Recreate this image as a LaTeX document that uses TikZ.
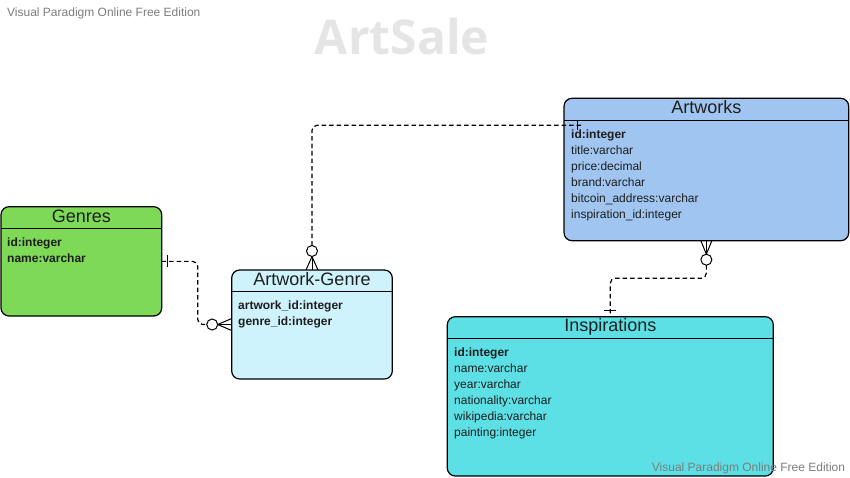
\documentclass[tikz,border=0pt]{standalone}
\usepackage{fontspec}
\setmainfont{Liberation Sans}
\newfontfamily\titlefont{Open Sans}
\definecolor{gcol}{RGB}{126,217,87}
\definecolor{agcol}{RGB}{207,243,252}
\definecolor{awcol}{RGB}{160,197,240}
\definecolor{incol}{RGB}{92,224,230}
\definecolor{txt}{RGB}{30,30,30}
\definecolor{wm}{RGB}{125,125,125}
\definecolor{ttl}{RGB}{229,229,229}
\begin{document}
\begin{tikzpicture}[x=1pt,y=-1pt,
  entity/.style={draw=black, line width=1.2pt, rounded corners=8pt, anchor=north west, inner sep=0pt, outer sep=0pt},
  hdr/.style={font=\fontsize{18}{20}\selectfont, text=txt, anchor=base, inner sep=0pt},
  fld/.style={font=\fontsize{12}{14}\selectfont, text=txt, anchor=base west, inner sep=0pt},
  sep/.style={line width=1pt},
  conn/.style={line width=1.2pt, dash pattern=on 4.5pt off 3pt},
  endmk/.style={line width=1pt, solid},
  crc/.style={circle, draw=black, fill=white, line width=1pt, minimum size=11pt, inner sep=0pt, outer sep=0pt},
  wmark/.style={font=\fontsize{12}{14}\selectfont, text=wm, inner sep=0pt}
]
\useasboundingbox (0,0) rectangle (850,477);

% title and watermarks
\node[anchor=base, text=ttl, inner sep=0pt, font=\titlefont\bfseries\fontsize{48}{54}\selectfont] (title) at (402,54) {ArtSale};
\node[wmark, anchor=base west] (wm1) at (7,16) {Visual Paradigm Online Free Edition};

% Genres
\node[entity, fill=gcol, minimum width=160.7pt, minimum height=109.3pt] (G) at (1,206.7) {};
\draw[sep] (G.west |- 0,228.5) -- (G.east |- 0,228.5);
\node[hdr] (Gt) at (G.north |- 0,222) {Genres};
\node[fld] (G1) at (7,246) {\textbf{id:integer}};
\node[fld] (G2) at (7,262) {\textbf{name:varchar}};

% Artwork-Genre
\node[entity, fill=agcol, minimum width=160.6pt, minimum height=109pt] (AG) at (231.7,270) {};
\draw[sep] (AG.west |- 0,291) -- (AG.east |- 0,291);
\node[hdr] (AGt) at (AG.north |- 0,285.3) {Artwork-Genre};
\node[fld] (AG1) at (238,309) {\textbf{artwork\_id:integer}};
\node[fld] (AG2) at (238,325) {\textbf{genre\_id:integer}};

% Artworks
\node[entity, fill=awcol, minimum width=284.7pt, minimum height=142.4pt] (AW) at (564,98.3) {};
\draw[sep] (AW.west |- 0,120.3) -- (AW.east |- 0,120.3);
\node[hdr] (AWt) at (AW.north |- 0,113.5) {Artworks};
\node[fld] (AW1) at (571,138.3) {\textbf{id:integer}};
\node[fld] (AW2) at (571,154.3) {title:varchar};
\node[fld] (AW3) at (571,170.3) {price:decimal};
\node[fld] (AW4) at (571,186.3) {brand:varchar};
\node[fld] (AW5) at (571,202.3) {bitcoin\_address:varchar};
\node[fld] (AW6) at (571,218.3) {inspiration\_id:integer};

% Inspirations
\node[entity, fill=incol, minimum width=326pt, minimum height=159.3pt] (IN) at (447.3,316.7) {};
\draw[sep] (IN.west |- 0,338.3) -- (IN.east |- 0,338.3);
\node[hdr] (INt) at (IN.north |- 0,331.8) {Inspirations};
\node[fld] (IN1) at (454,356.3) {\textbf{id:integer}};
\node[fld] (IN2) at (454,372.3) {name:varchar};
\node[fld] (IN3) at (454,388.3) {year:varchar};
\node[fld] (IN4) at (454,404.3) {nationality:varchar};
\node[fld] (IN5) at (454,420.3) {wikipedia:varchar};
\node[fld] (IN6) at (454,436.3) {painting:integer};

\node[wmark, anchor=base west] (wm2) at (651.7,471.7) {Visual Paradigm Online Free Edition};

% Connector Genres -- Artwork-Genre
\node[crc] (o1) at ([xshift=-19.5pt]AG.west) {};
\draw[conn, rounded corners=5pt] (G.east) -| ([xshift=-9pt]o1.west) -- (o1.west);
\draw[endmk] ([xshift=6pt,yshift=6pt]G.east) -- ([xshift=6pt,yshift=-6pt]G.east);
\draw[endmk] (o1.east) -- (AG.west);
\draw[endmk] (o1.east) -- ([yshift=6pt]AG.west);
\draw[endmk] (o1.east) -- ([yshift=-6pt]AG.west);

% Connector Artwork-Genre -- Artworks
\node[crc] (o2) at ([yshift=19pt]AG.north) {};
\coordinate (e2) at ([xshift=19pt,yshift=-27pt]AW.north west);
\draw[conn, rounded corners=5pt] (o2.north) |- (e2);
\draw[endmk] ([xshift=-6pt,yshift=5pt]e2) -- ([xshift=-6pt,yshift=-5pt]e2);
\draw[endmk] (o2.south) -- (AG.north);
\draw[endmk] (o2.south) -- ([xshift=-6pt]AG.north);
\draw[endmk] (o2.south) -- ([xshift=6pt]AG.north);

% Connector Artworks -- Inspirations
\node[crc] (o3) at ([yshift=-19pt]AW.south) {};
\draw[endmk] (o3.north) -- (AW.south);
\draw[endmk] (o3.north) -- ([xshift=-5.5pt]AW.south);
\draw[endmk] (o3.north) -- ([xshift=5.5pt]AW.south);
\draw[conn, rounded corners=5pt] (o3.south) -- ([yshift=-13pt]o3.south) -| (IN.north);
\draw[endmk] ([xshift=-6pt,yshift=6pt]IN.north) -- ([xshift=6pt,yshift=6pt]IN.north);
\end{tikzpicture}
\end{document}
